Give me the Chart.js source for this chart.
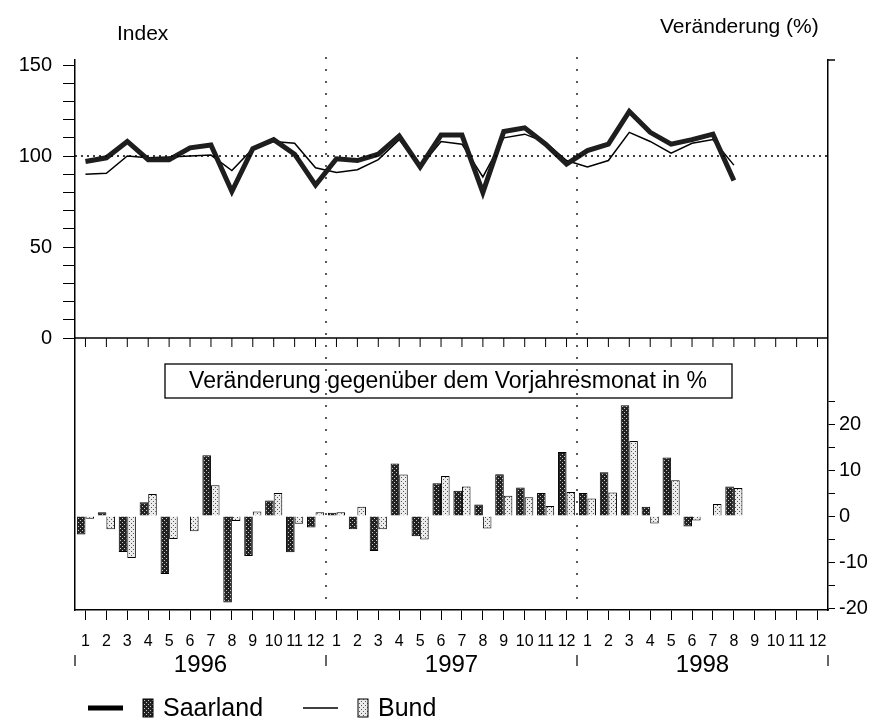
<!DOCTYPE html>
<html lang="de">
<head>
<meta charset="utf-8">
<title>Index und Veränderung – Saarland / Bund</title>
<script src="https://cdn.jsdelivr.net/npm/chart.js@4/dist/chart.umd.min.js"></script>
<style>
  html, body { margin: 0; padding: 0; background: #fff; }
  #wrap { position: relative; width: 886px; height: 720px; }
</style>
</head>
<body>
<div id="wrap"><canvas id="chart"></canvas></div>
<script>
/* global Chart */
const months = [
  "1", "2", "3", "4", "5", "6", "7", "8", "9", "10", "11", "12",
  "1", "2", "3", "4", "5", "6", "7", "8", "9", "10", "11", "12",
  "1", "2", "3", "4", "5", "6", "7", "8", "9", "10", "11", "12",
];
const years = ["1996", "1997", "1998"];
const seriesNames = ["Saarland", "Bund"];

// Index (top panel), Jan 1996 .. Aug 1998
const saarlandIndex = [
  97, 99, 108, 98, 98, 104.5, 106, 80.5, 104, 109, 101, 84,
  98.5, 97.5, 101, 111, 94, 111.5, 111.5, 80, 113.5, 115.5, 106.5, 95.5,
  103, 106.5, 124.5, 113, 106.5, 109, 112, 86.5,
];
const bundIndex = [
  90, 90.5, 100, 99, 99.5, 100, 100.5, 92, 104, 108, 107, 93.5,
  91, 92.5, 98, 109, 94, 108, 106.5, 88.5, 110, 112, 107.5, 97.5,
  94, 97.5, 113, 108, 101.5, 107, 109, 95,
];

// Veränderung gegenüber dem Vorjahresmonat in % (bottom panel)
const saarlandChange = [
  -4, 0.8, -7.8, 3, -12.6, 0, 13.2, -18.8, -8.7, 3.4, -7.9, -2.5,
  0.7, -2.9, -7.6, 11.4, -4.4, 7.1, 5.5, 2.5, 9.1, 6.2, 5, 13.9,
  5, 9.5, 24.1, 2, 12.7, -2.3, 0, 6.4,
];
const bundChange = [
  -0.6, -2.9, -9.1, 4.8, -5, -3.3, 6.7, -1.1, 1, 5, -1.7, 0.8,
  0.8, 2, -2.9, 9, -5.1, 8.7, 6.4, -2.7, 4.4, 4.1, 2.2, 5.2,
  3.8, 5.1, 16.3, -1.6, 7.8, -1, 2.6, 6.1,
];

const indexTicks = [0, 50, 100, 150];
const changeTicks = [-20, -10, 0, 10, 20];

const fontMain = "'Liberation Sans', Arial, sans-serif";
const fontNarrow = "'Liberation Sans Narrow', 'Liberation Sans', Arial, sans-serif";

Chart.defaults.font.family = fontMain;
Chart.defaults.color = "#000";

const canvas = document.getElementById("chart");

// little dotted raster fills, like the screened bars of the print
function raster(bg, dot, cells) {
  const c = document.createElement("canvas");
  c.width = 4;
  c.height = 4;
  const g = c.getContext("2d");
  g.fillStyle = bg;
  g.fillRect(0, 0, 4, 4);
  g.fillStyle = dot;
  for (const [px, py] of cells) g.fillRect(px, py, 1, 1);
  return canvas.getContext("2d").createPattern(c, "repeat");
}
const darkFill = raster("#222", "#c8c8c8", [[0, 0], [2, 2]]);
const lightFill = raster("#ececec", "#555", [[1, 1], [3, 3]]);

function seg(ctx, x1, y1, x2, y2) {
  ctx.beginPath();
  ctx.moveTo(x1, y1);
  ctx.lineTo(x2, y2);
  ctx.stroke();
}

// reference line, year separators, panel divider, year row, titles, legend
const decor = {
  id: "decor",
  afterDraw(chart) {
    const { ctx, chartArea: a } = chart;
    const x = chart.scales.x;
    const yi = chart.scales.yIndex;
    ctx.save();
    ctx.strokeStyle = "#000";
    ctx.fillStyle = "#000";

    // index = 100
    ctx.lineWidth = 1.3;
    ctx.setLineDash([2, 4]);
    const y100 = yi.getPixelForValue(100);
    seg(ctx, a.left, y100, a.right, y100);

    // year boundaries
    ctx.setLineDash([2, 10]);
    const bounds = [];
    for (let i = 11; i < months.length - 1; i += 12) {
      bounds.push((x.getPixelForValue(i) + x.getPixelForValue(i + 1)) / 2);
    }
    for (const xb of bounds) seg(ctx, xb, a.top - 3, xb, a.bottom);
    ctx.setLineDash([]);

    // divider between the panels with month ticks
    ctx.lineWidth = 1.5;
    const y0 = yi.getPixelForValue(0);
    seg(ctx, a.left, y0, a.right, y0);
    ctx.lineWidth = 1;
    months.forEach((m, i) => {
      const xm = x.getPixelForValue(i);
      seg(ctx, xm, y0, xm, y0 + 9);
    });

    // small cap at the top of the right axis
    ctx.lineWidth = 1.5;
    seg(ctx, a.right, a.top, a.right + 7, a.top);

    // year row
    ctx.lineWidth = 1.2;
    for (const xb of [a.left, ...bounds, a.right]) seg(ctx, xb, 655, xb, 666);
    ctx.font = `24px ${fontMain}`;
    ctx.textAlign = "center";
    ctx.textBaseline = "middle";
    years.forEach((yr, k) => {
      const xc = (x.getPixelForValue(k * 12 + 5) + x.getPixelForValue(k * 12 + 6)) / 2;
      ctx.fillText(yr, xc, 665);
    });

    // axis titles
    ctx.textAlign = "left";
    ctx.font = `21px ${fontMain}`;
    ctx.fillText("Index", 117, 34);
    ctx.font = `21px ${fontMain}`;
    ctx.fillText("Veränderung (%)", 660, 27);

    // caption box of the lower panel
    ctx.lineWidth = 1.3;
    ctx.strokeRect(165, 364, 567, 34);
    ctx.font = `23px ${fontMain}`;
    ctx.textAlign = "center";
    ctx.fillText("Veränderung gegenüber dem Vorjahresmonat in %", 448, 382);

    // legend
    ctx.textAlign = "left";
    ctx.font = `25px ${fontMain}`;
    const items = [
      { x: 88, w: 5, fill: darkFill },
      { x: 303, w: 1.5, fill: lightFill },
    ];
    items.forEach((it, k) => {
      ctx.lineWidth = it.w;
      seg(ctx, it.x, 708, it.x + 35, 708);
      ctx.fillStyle = it.fill;
      ctx.fillRect(it.x + 55, 699, 10, 18);
      ctx.lineWidth = 1;
      ctx.strokeRect(it.x + 55, 699, 10, 18);
      ctx.fillStyle = "#000";
      ctx.fillText(seriesNames[k], it.x + 75, 709);
    });
    ctx.restore();
  },
};

new Chart(canvas, {
  type: "bar",
  plugins: [decor],
  data: {
    labels: months,
    datasets: [
      {
        type: "line",
        label: seriesNames[0],
        data: saarlandIndex,
        yAxisID: "yIndex",
        borderColor: "#1e1e1e",
        borderWidth: 5,
        pointRadius: 0,
        tension: 0,
      },
      {
        type: "line",
        label: seriesNames[1],
        data: bundIndex,
        yAxisID: "yIndex",
        borderColor: "#000",
        borderWidth: 1.5,
        pointRadius: 0,
        tension: 0,
      },
      {
        label: seriesNames[0],
        data: saarlandChange,
        yAxisID: "yChange",
        backgroundColor: darkFill,
        borderColor: "#000",
        borderWidth: 1,
        categoryPercentage: 0.82,
        barPercentage: 1,
      },
      {
        label: seriesNames[1],
        data: bundChange,
        yAxisID: "yChange",
        backgroundColor: lightFill,
        borderColor: "#000",
        borderWidth: 1,
        categoryPercentage: 0.82,
        barPercentage: 1,
      },
    ],
  },
  options: {
    animation: false,
    responsive: true,
    maintainAspectRatio: false,
    layout: { padding: { top: 60, left: 0, right: 0, bottom: 0 } },
    plugins: {
      legend: { display: false },
      tooltip: { enabled: false },
    },
    scales: {
      x: {
        grid: { offset: false, drawOnChartArea: false, color: "#000", tickLength: 10 },
        border: { color: "#000", width: 1.5 },
        ticks: {
          autoSkip: false,
          maxRotation: 0,
          padding: 12,
          font: { family: fontNarrow, size: 16 },
        },
        afterFit: (s) => { s.height = 110; },
      },
      yIndex: {
        position: "left",
        min: -149.45,
        max: 152.75,
        afterBuildTicks: (s) => {
          s.ticks = s.ticks.filter((t) => t.value >= 0 && t.value <= 150 && Math.round(t.value) % 10 === 0);
        },
        ticks: {
          stepSize: 10,
          includeBounds: false,
          autoSkip: false,
          padding: 11,
          font: { size: 20 },
          callback: (v) => (indexTicks.includes(Math.round(v)) ? String(Math.round(v)) : ""),
        },
        grid: { drawOnChartArea: false, color: "#000", tickLength: 12 },
        border: { color: "#000", width: 1.5 },
        afterFit: (s) => { s.width = 75; },
      },
      yChange: {
        position: "right",
        min: -20.43,
        max: 99.13,
        afterBuildTicks: (s) => {
          s.ticks = s.ticks.filter((t) => t.value >= -20 && t.value <= 25 && Math.round(t.value) % 5 === 0);
        },
        ticks: {
          stepSize: 5,
          includeBounds: false,
          autoSkip: false,
          padding: 4,
          font: { size: 20 },
          callback: (v) => (changeTicks.includes(Math.round(v)) ? String(Math.round(v)) : ""),
        },
        grid: { drawOnChartArea: false, color: "#000", tickLength: 7 },
        border: { color: "#000", width: 1.5 },
        afterFit: (s) => { s.width = 58; },
      },
    },
  },
});
</script>
</body>
</html>
